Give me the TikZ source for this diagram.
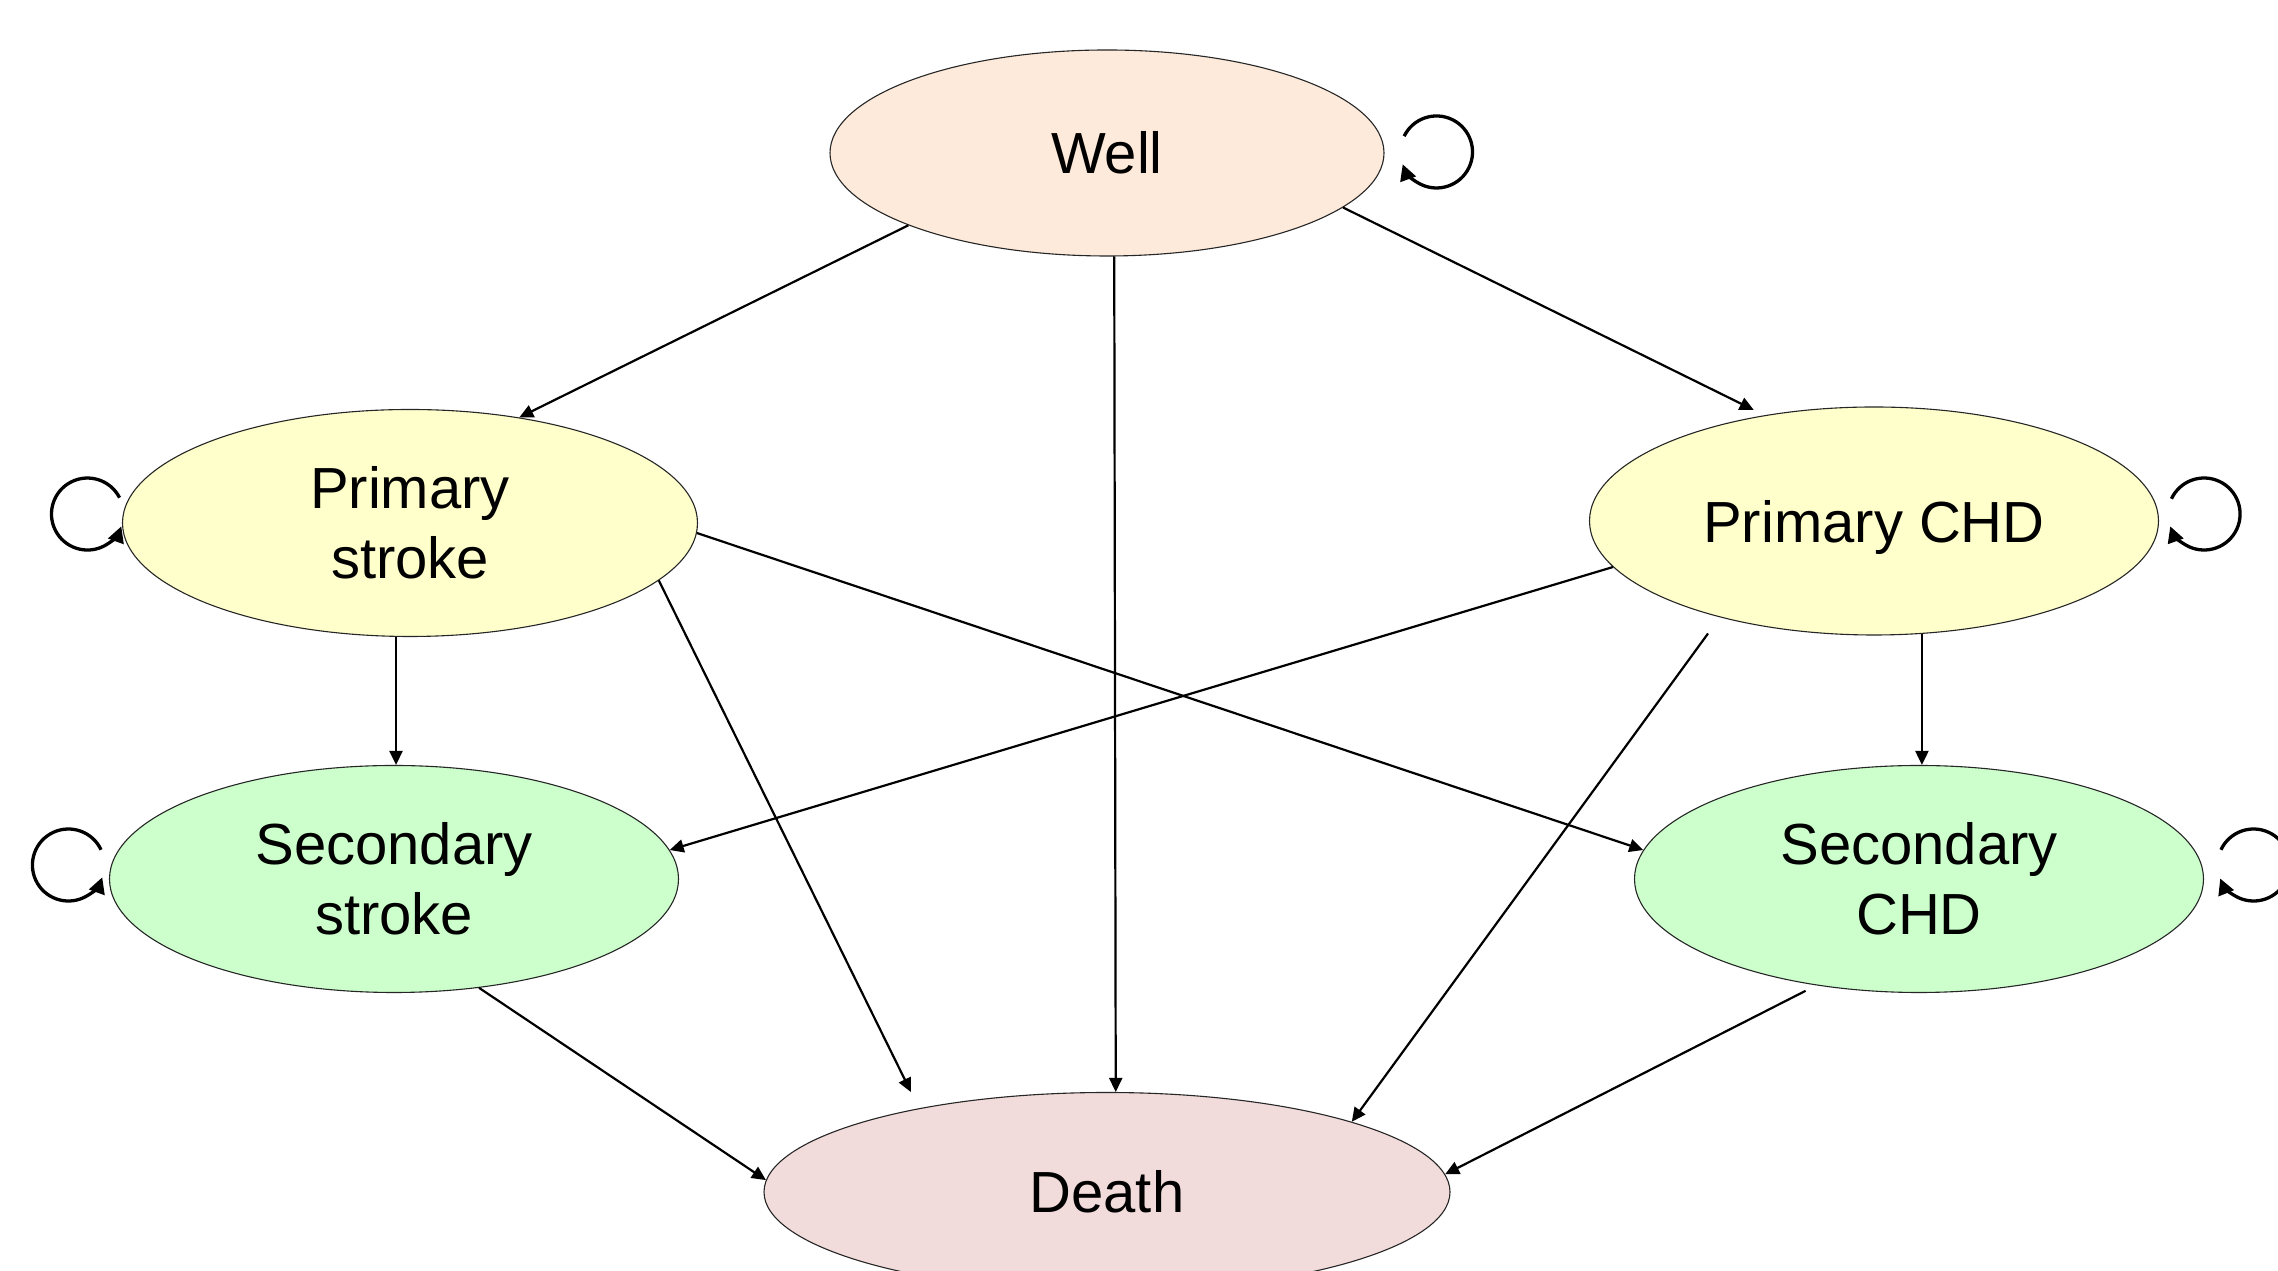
\documentclass[tikz,border=0pt]{standalone}
\usepackage{fontspec}
\setmainfont{Liberation Sans}
\usetikzlibrary{shapes.geometric,arrows.meta}
\definecolor{wellc}{HTML}{FDEADA}
\definecolor{primc}{HTML}{FFFFCC}
\definecolor{secc}{HTML}{CCFFCC}
\definecolor{deathc}{HTML}{F2DCDB}
\begin{document}
\begin{tikzpicture}[x=1pt,y=1pt,
  state/.style={ellipse,draw=black!85,line width=1.1pt,inner sep=0pt,align=center,
    font=\fontsize{58}{70}\selectfont},
  conn/.style={line width=2.2pt,-{Triangle[length=14pt,width=13pt]}},
  selfloop/.style={line width=3.3pt,-{Triangle[length=16pt,width=16pt]}}]
\useasboundingbox (0,0) rectangle (2278,1271);
\fill[white] (0,0) rectangle (2278,1271);
% states
\node[state,fill=wellc,minimum width=554pt,minimum height=206pt] (well) at (1107,1118) {Well};
\node[state,fill=primc,minimum width=575pt,minimum height=227pt] (ps) at (410,748) {Primary\\stroke};
\node[state,fill=primc,minimum width=569pt,minimum height=228pt,text depth=0pt] (pchd) at (1874,750) {Primary CHD};
\node[state,fill=secc,minimum width=569pt,minimum height=227pt] (ss) at (394,392) {Secondary\\stroke};
\node[state,fill=secc,minimum width=569pt,minimum height=227pt] (schd) at (1919,392) {Secondary\\CHD};
\node[state,fill=deathc,minimum width=686pt,minimum height=199pt] (death) at (1107,79) {Death};
% transitions
\draw[conn] (well.200) -- (ps.44);
\draw[conn,shorten >=12pt] (well.347) -- (pchd.136);
\draw[conn] (well.274) -- (death.85);
\draw[conn] (ps.263) -- (ps.263 |- ss.north);
\draw[conn] (ps.358) -- (schd.174);
\draw[conn,shorten >=18pt] (ps.347) -- (death.156);
\draw[conn] (pchd.190) -- (ss.6);
\draw[conn,shorten <=20pt] (pchd.212) -- (death.16);
\draw[conn] (pchd.293) -- (pchd.293 |- schd.north);
\draw[conn] (ss.308) -- (death.178);
\draw[conn,shorten <=12pt] (schd.226) -- (death.3);
% self loops
\draw[selfloop] ([shift={(19.6,16.8)}]well.east) arc[start angle=154,end angle=-160,radius=36];
\draw[selfloop] ([shift={(12.4,22.2)}]pchd.east) arc[start angle=155,end angle=-160,radius=36];
\draw[selfloop] ([shift={(16.9,29.2)}]schd.east) arc[start angle=155,end angle=-158,radius=36];
\draw[selfloop] ([shift={(-2.4,25.3)}]ps.west) arc[start angle=27,end angle=340,radius=36];
\draw[selfloop] ([shift={(-7.9,29.2)}]ss.west) arc[start angle=25,end angle=340,radius=36];
\end{tikzpicture}
\end{document}
